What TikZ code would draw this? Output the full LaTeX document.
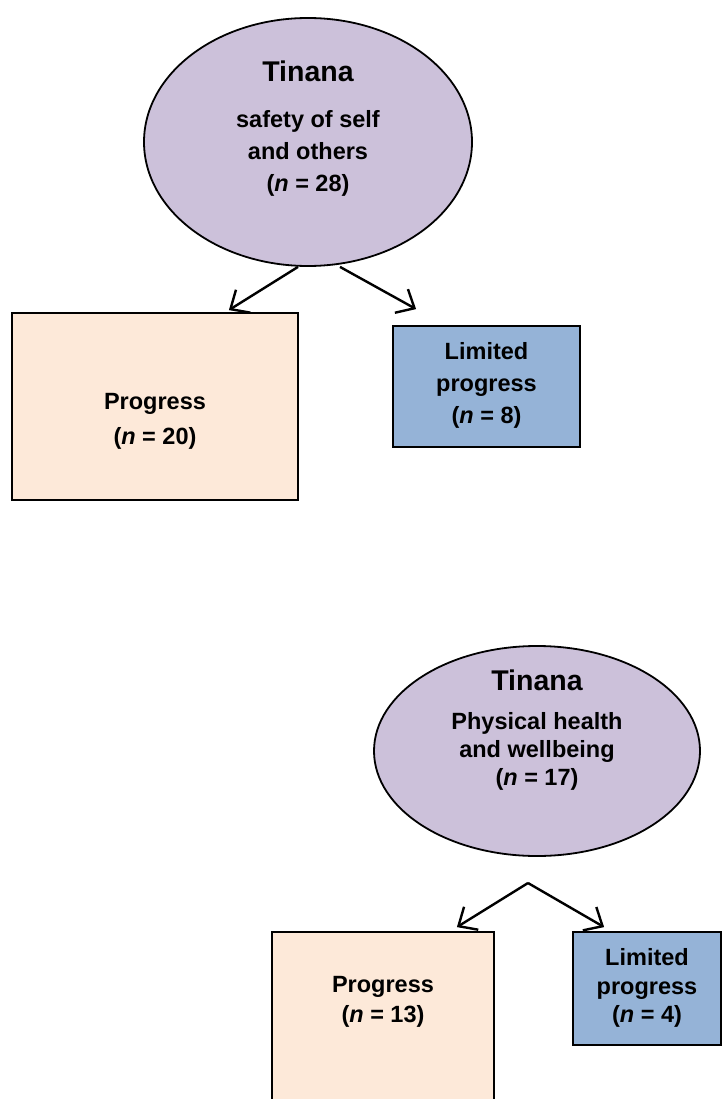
\documentclass[tikz,border=0pt]{standalone}
\usepackage{fontspec}
\setmainfont{Liberation Sans}
\usetikzlibrary{arrows.meta,shapes.geometric}
\definecolor{ovalfill}{HTML}{CCC1DA}
\definecolor{progfill}{HTML}{FDE9D9}
\definecolor{limfill}{HTML}{95B3D7}
\begin{document}
\begin{tikzpicture}[x=1pt,y=-1pt,
  outline/.style={draw=black,line width=1.8pt},
  oval/.style={outline,ellipse,fill=ovalfill,inner sep=0pt},
  progbox/.style={outline,rectangle,fill=progfill,inner sep=0pt},
  limbox/.style={outline,rectangle,fill=limfill,inner sep=0pt},
  title/.style={font=\bfseries\fontsize{28.5}{34}\selectfont,inner sep=0pt},
  body/.style={font=\bfseries\fontsize{23.5}{#1}\selectfont,align=center,inner sep=0pt},
  body/.default=32pt,
  arr/.style={line width=2.4pt,-{Straight Barb[length=15pt,width=27pt,line width=2.4pt]}}]
\clip (0,0) rectangle (722,1099);
\useasboundingbox (0,0) rectangle (722,1099);

% upper tree: safety of self and others
\node[oval,minimum width=328pt,minimum height=248pt] (e1) at (308,142) {};
\node[title] (e1t) at (308,71) {Tinana};
\node[body] (e1b) at (308,153) {safety of self\\and others\\(\textit{n} = 28)};

\node[progbox,minimum width=286pt,minimum height=187pt] (p1) at (155,406.5) {};
\node[body=35pt] (p1t) at (155,421) {Progress\\(\textit{n} = 20)};

\node[limbox,minimum width=187pt,minimum height=121pt] (l1) at (486.5,386.5) {};
\node[body] (l1t) at (486.5,385) {Limited\\progress\\(\textit{n} = 8)};

\draw[arr] ([xshift=-10pt]e1.south) -- ([xshift=-70pt,yshift=2pt]p1.north east);
\draw[arr] ([xshift=32pt]e1.south) -- ([xshift=24pt,yshift=16pt]l1.north west);

% lower tree: physical health and wellbeing
\node[oval,minimum width=326pt,minimum height=210pt] (e2) at (537,751) {};
\node[title] (e2t) at (537,680) {Tinana};
\node[body=28pt] (e2b) at (537,751) {Physical health\\and wellbeing\\(\textit{n} = 17)};

\node[progbox,minimum width=222pt,minimum height=200pt] (p2) at (383,1032) {};
\node[body=30pt] (p2t) at (383,1002) {Progress\\(\textit{n} = 13)};

\node[limbox,minimum width=148pt,minimum height=113pt] (l2) at (647,988.5) {};
\node[body=28.5pt] (l2t) at (647,988) {Limited\\progress\\(\textit{n} = 4)};

\coordinate (fork) at (528,883);
\draw[arr] (fork) -- ([xshift=-38pt,yshift=4pt]p2.north east);
\draw[arr] (fork) -- ([xshift=32pt,yshift=4pt]l2.north west);
\end{tikzpicture}
\end{document}
